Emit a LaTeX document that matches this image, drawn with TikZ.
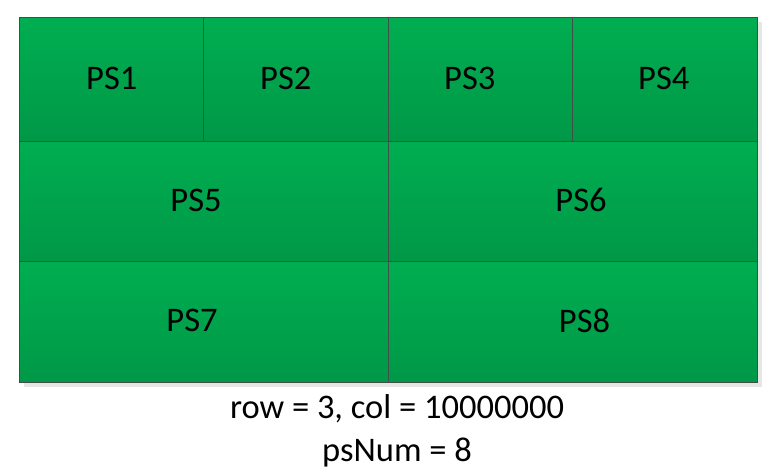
\documentclass[tikz,border=0pt]{standalone}
\usepackage{fontspec}
\setmainfont{Carlito}
\usetikzlibrary{positioning}
\definecolor{psTop}{RGB}{0,174,80}
\definecolor{psBot}{RGB}{0,152,72}
\definecolor{psLine}{RGB}{64,80,72}
\definecolor{psShade}{RGB}{230,230,230}

\begin{document}
\begin{tikzpicture}[x=1pt,y=-1pt,
  cell/.style={draw=psLine,line width=0.9pt,top color=psTop,bottom color=psBot,
    inner sep=0pt,outer sep=0pt},
  small/.style={cell,minimum width=184.5pt,minimum height=124pt},
  wide/.style={cell,minimum width=369pt,minimum height=120pt},
  lbl/.style={font=\fontsize{34.5}{40}\selectfont,inner sep=0pt,text=black},
  note/.style={lbl,anchor=base}]
\useasboundingbox (0,0) rectangle (783,471);
\fill[psShade] (24,22) rectangle (762,387);
% cells
\node[small] (ps1) at (111.25,79) {};
\node[small,right=0pt of ps1] (ps2) {};
\node[small,right=0pt of ps2] (ps3) {};
\node[small,right=0pt of ps3] (ps4) {};
\node[wide,minimum height=120pt] (ps5) at (203.5,201) {};
\node[wide,right=0pt of ps5] (ps6) {};
\node[wide,minimum height=121pt] (ps7) at (203.5,321.5) {};
\node[wide,minimum height=121pt,right=0pt of ps7] (ps8) {};
% labels
\node[lbl] (t1) at ([xshift=0.5pt,yshift=1pt]ps1.center) {PS1};
\node[lbl] (t2) at ([xshift=-10pt,yshift=1pt]ps2.center) {PS2};
\node[lbl] (t3) at ([xshift=-10.5pt,yshift=1pt]ps3.center) {PS3};
\node[lbl] (t4) at ([xshift=-1pt,yshift=1pt]ps4.center) {PS4};
\node[lbl] (t5) at ([xshift=-7.5pt,yshift=1pt]ps5.center) {PS5};
\node[lbl] (t6) at ([xshift=8.5pt,yshift=1pt]ps6.center) {PS6};
\node[lbl] (t7) at ([xshift=-11.5pt,yshift=1pt]ps7.center) {PS7};
\node[lbl] (t8) at ([xshift=12pt,yshift=1pt]ps8.center) {PS8};
\node[note] (dims) at (397,418) {row = 3, col = 10000000};
\node[note] (num) at (397,461.5) {psNum = 8};
\end{tikzpicture}
\end{document}
